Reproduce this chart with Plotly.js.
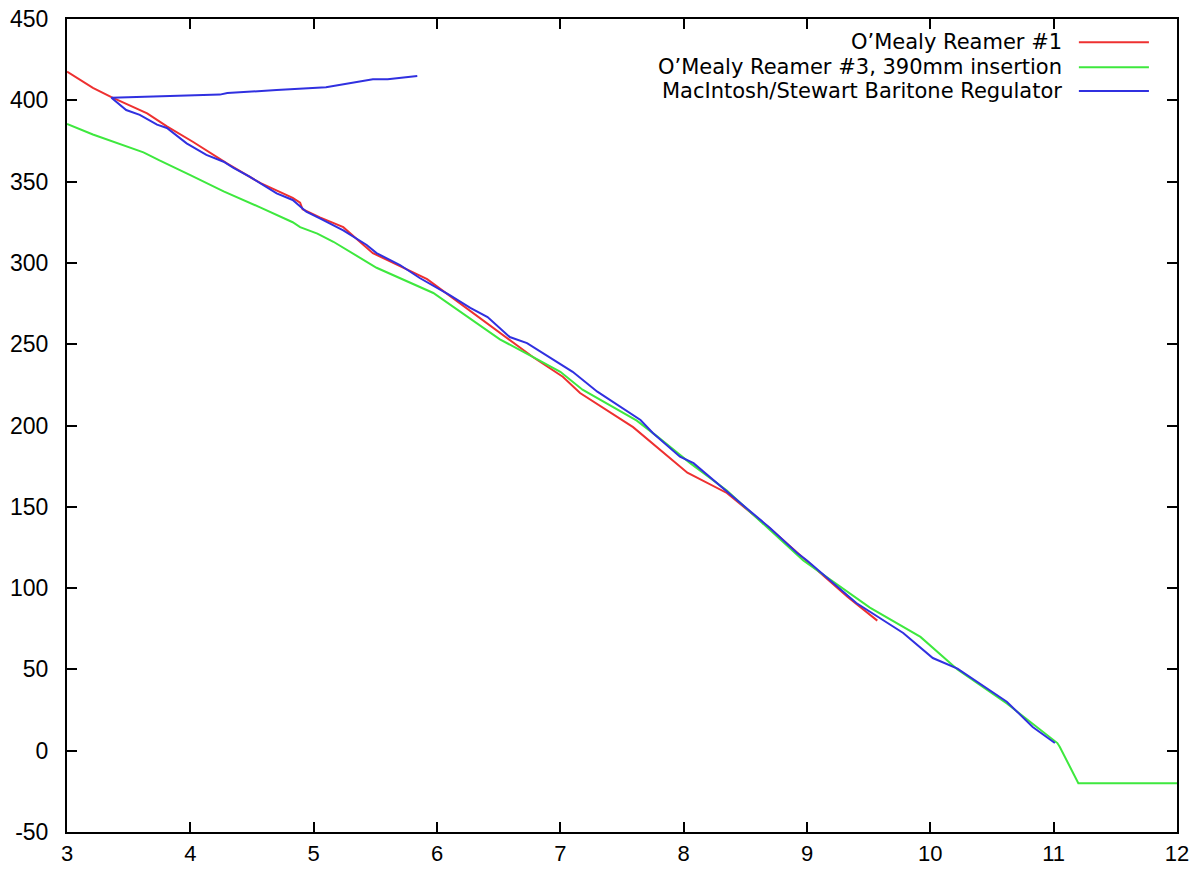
<!DOCTYPE html>
<html>
<head>
<meta charset="utf-8">
<script src="https://cdn.plot.ly/plotly-3.0.1.min.js"></script>
<style>html,body{margin:0;padding:0;background:#fff;}#chart{width:1200px;height:870px;}</style>
</head>
<body>
<div id="chart"></div>
<script>
// Series names
const seriesNames = ["O\u2019Mealy Reamer #1", "O\u2019Mealy Reamer #3, 390mm insertion", "MacIntosh/Stewart Baritone Regulator"];

// O'Mealy Reamer #1
const redX = [3.0, 3.21, 3.36, 3.65, 3.81, 4.02, 4.30, 4.57, 4.83, 4.89, 4.91, 5.05, 5.24, 5.48, 5.92, 6.51, 6.78, 7.02, 7.16, 7.59, 8.03, 8.35, 8.68, 8.97, 9.33, 9.57];
const redY = [417.6, 407.6, 402, 392, 384, 374.5, 361, 349, 340, 337, 333, 328, 322, 306, 290, 257, 242, 230, 220, 199, 171, 158.5, 138, 118.5, 94.5, 80];

// O'Mealy Reamer #3, 390mm insertion
const greenX = [3.0, 3.21, 3.62, 3.75, 4.0, 4.27, 4.57, 4.83, 4.89, 5.03, 5.16, 5.51, 5.97, 6.51, 6.78, 7.0, 7.18, 7.62, 7.79, 8.05, 8.35, 8.70, 8.97, 9.51, 9.92, 10.22, 10.62, 11.03, 11.05, 11.2, 12.0];
const greenY = [385.4, 379, 368, 363, 354, 344, 334, 325, 322, 318, 313, 297, 281.5, 253, 242, 233, 222, 203, 193, 177, 160, 136, 117, 88, 70, 50, 29, 4.7, 2.3, -20, -20];

// MacIntosh/Stewart Baritone Regulator
const blueX = [5.84, 5.6, 5.48, 5.1, 4.7, 4.3, 4.24, 3.75, 3.36, 3.48, 3.59, 3.73, 3.81, 3.97, 4.13, 4.27, 4.35, 4.48, 4.70, 4.83, 4.94, 5.05, 5.24, 5.43, 5.51, 5.70, 5.86, 6.10, 6.27, 6.41, 6.59, 6.73, 6.84, 7.10, 7.30, 7.65, 7.75, 7.97, 8.08, 8.30, 8.46, 8.70, 8.92, 9.0, 9.40, 9.59, 9.78, 10.02, 10.22, 10.62, 10.83, 11.01];
const blueY = [415, 413, 413, 408, 406.3, 404.5, 403.5, 402.3, 401.6, 394, 391, 385, 383, 373.5, 366.4, 362.2, 358.4, 353, 342.8, 338.7, 331.5, 327.4, 320, 311, 306, 298.7, 290.7, 280.3, 272.3, 266.7, 254.4, 250.7, 245.4, 233, 220.8, 203.4, 195.4, 180.8, 176.8, 162.4, 152.3, 137, 121.6, 117, 90.8, 81.6, 72.4, 57, 50.5, 30.1, 14.6, 4.7];

// Tick labels
const xTickVals = [3, 4, 5, 6, 7, 8, 9, 10, 11, 12];
const xTickText = ["3", "4", "5", "6", "7", "8", "9", "10", "11", "12"];
const yTickVals = [-50, 0, 50, 100, 150, 200, 250, 300, 350, 400, 450];
const yTickText = ["-50", "0", "50", "100", "150", "200", "250", "300", "350", "400", "450"];

const colors = ["#ee3030", "#3ee83e", "#3030e0"];
const xs = [redX, greenX, blueX];
const ys = [redY, greenY, blueY];

const traces = xs.map((x, i) => ({
  x: x, y: ys[i], type: "scatter", mode: "lines",
  name: seriesNames[i], showlegend: false,
  line: {color: colors[i], width: 2}
}));

const FONT = "Liberation Sans, Arial, Helvetica, sans-serif";
const LEGFONT = "DejaVu Sans, Liberation Sans, Arial, sans-serif";

// custom legend: text on the left, sample line on the right
const legTextX = 0.8972, legLineX0 = 0.9116, legLineX1 = 0.9747;
const legRows = [0.9713, 0.9406, 0.9114];
const annotations = seriesNames.map((n, i) => ({
  xref: "paper", yref: "paper", x: legTextX, y: legRows[i],
  xanchor: "right", yanchor: "middle", text: n, showarrow: false, borderpad: 0,
  font: {family: LEGFONT, size: 21, color: "#000"}
}));
const shapes = seriesNames.map((n, i) => ({
  type: "line", xref: "paper", yref: "paper",
  x0: legLineX0, x1: legLineX1, y0: legRows[i], y1: legRows[i],
  line: {color: colors[i], width: 2}
}));

const axisCommon = {
  showgrid: false, zeroline: false, showline: true, linecolor: "#000", linewidth: 2,
  mirror: "ticks", ticks: "inside", ticklen: 10, tickwidth: 2, tickcolor: "#000",
  tickmode: "array",
  tickfont: {family: FONT, size: 23, color: "#000"}
};

const layout = {
  width: 1200, height: 870,
  margin: {l: 67, r: 23, t: 19, b: 38, pad: 0},
  paper_bgcolor: "#fff", plot_bgcolor: "#fff",
  xaxis: Object.assign({}, axisCommon, {range: [3, 12], tickvals: xTickVals, ticktext: xTickText, ticklabelstandoff: 1, tickfont: {family: FONT, size: 22, color: "#000"}}),
  yaxis: Object.assign({}, axisCommon, {range: [-50, 450], tickvals: yTickVals, ticktext: yTickText, ticklabelstandoff: 12}),
  annotations: annotations,
  shapes: shapes
};

Plotly.newPlot("chart", traces, layout, {displayModeBar: false, staticPlot: true});
</script>
</body>
</html>
